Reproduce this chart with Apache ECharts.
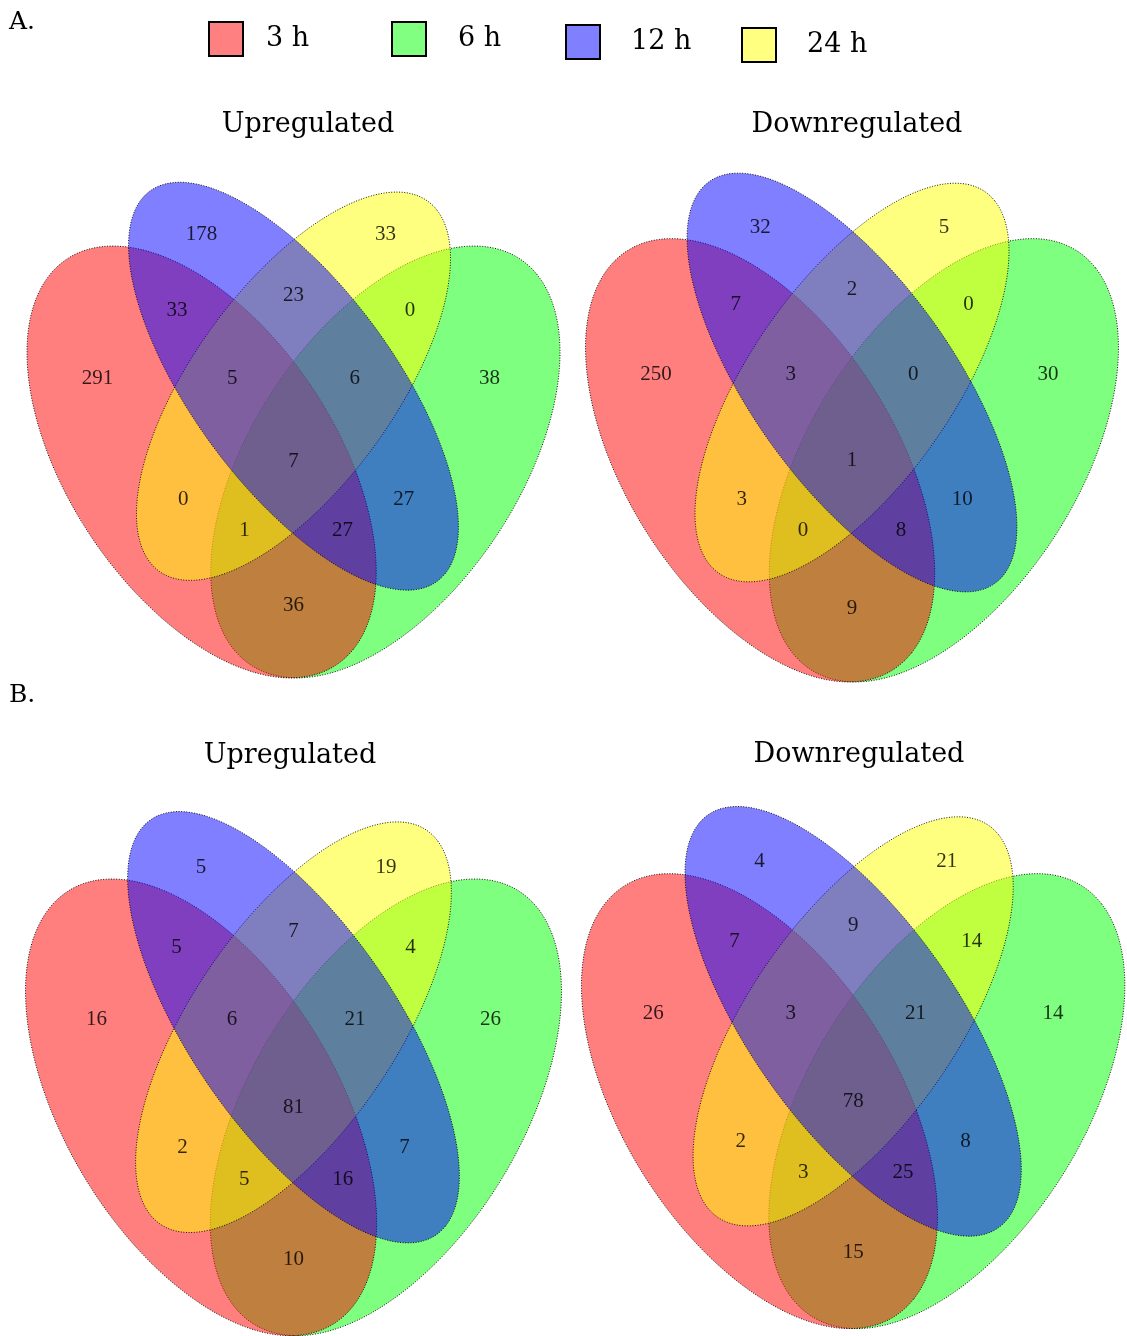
<!DOCTYPE html>
<html><head><meta charset="utf-8">
<script src="https://cdn.jsdelivr.net/npm/echarts@6/dist/echarts.min.js"></script>
<style>html,body{margin:0;padding:0;background:#fff}#c{width:1127px;height:1336px}</style>
</head><body><div id="c"></div><script>
// ---------- DATA ----------
const setNames = ['3 h', '6 h', '12 h', '24 h'];
const sectionLabels = ['A.', 'B.'];
const panelTitles = ['Upregulated', 'Downregulated', 'Upregulated', 'Downregulated'];
// Venn regions (order used by the count arrays)
const regions = ['12 h only', '24 h only', '3 h & 12 h', '12 h & 24 h', '24 h & 6 h',
  '3 h only', '3 h & 12 h & 24 h', '12 h & 24 h & 6 h', '6 h only', 'all four',
  '3 h & 24 h', '12 h & 6 h', '3 h & 24 h & 6 h', '3 h & 12 h & 6 h', '3 h & 6 h'];
const countsAUp   = [178, 33, 33, 23, 0, 291, 5, 6, 38, 7, 0, 27, 1, 27, 36];
const countsADown = [32, 5, 7, 2, 0, 250, 3, 0, 30, 1, 3, 10, 0, 8, 9];
const countsBUp   = [5, 19, 5, 7, 4, 16, 6, 21, 26, 81, 2, 7, 5, 16, 10];
const countsBDown = [4, 21, 7, 9, 14, 26, 3, 21, 14, 78, 2, 8, 3, 25, 15];
const panelCounts = [countsAUp, countsADown, countsBUp, countsBDown];

// ---------- LAYOUT (unit Venn space, y up) ----------
const REGION_POS = {
  '12 h only': [0.35, 0.77], '24 h only': [0.65, 0.77],
  '3 h & 12 h': [0.31, 0.67], '12 h & 24 h': [0.50, 0.69], '24 h & 6 h': [0.69, 0.67],
  '3 h only': [0.18, 0.58], '3 h & 12 h & 24 h': [0.40, 0.58], '12 h & 24 h & 6 h': [0.60, 0.58], '6 h only': [0.82, 0.58],
  'all four': [0.50, 0.47],
  '3 h & 24 h': [0.32, 0.42], '12 h & 6 h': [0.68, 0.42],
  '3 h & 24 h & 6 h': [0.42, 0.38], '3 h & 12 h & 6 h': [0.58, 0.38],
  '3 h & 6 h': [0.50, 0.28]
};
const ELLIPSES = {
  '3 h':  {cx: 0.35, cy: 0.47, a: 0.35, b: 0.20, rot: -45},
  '6 h':  {cx: 0.65, cy: 0.47, a: 0.35, b: 0.20, rot: 45},
  '12 h': {cx: 0.50, cy: 0.57, a: 0.35, b: 0.15, rot: -45},
  '24 h': {cx: 0.50, cy: 0.57, a: 0.33, b: 0.15, rot: 45}
};
const FILL = {'3 h': 'rgba(255,0,0,0.5)', '6 h': 'rgba(0,255,0,0.5)', '12 h': 'rgba(0,0,255,0.5)', '24 h': 'rgba(255,255,0,0.5)'};
const TINT = {'3 h': '#ff8080', '6 h': '#80ff80', '12 h': '#8080ff', '24 h': '#ffff80'};
const DRAW_ORDER = ['6 h', '3 h', '24 h', '12 h'];
// px = x0 + sx*x ; py = C - sy*y
const PANELS = [
  {x0: -12.8, sx: 612.6, C: 818.0, sy: 757.5},
  {x0: 545.75, sx: 612.5, C: 825.75, sy: 777.6},
  {x0: -14.5, sx: 616.0, C: 1483.8, sy: 801.0},
  {x0: 540.9, sx: 624.5, C: 1476.2, sy: 798.0}
];
const TITLE_POS = [[308, 125], [857, 125], [290, 756], [859, 755]];
const SECTION_POS = [[9, 22], [9, 695]];
const LEGEND_POS = [[208, 21, 18], [391, 21, 27], [565, 24, 26], [741, 27, 26]];
const XMIN = 0.1, XMAX = 0.9, YMIN = 0.2, YMAX = 0.8;
const SERIF = "'DejaVu Serif', serif";
const NUMFONT = "'Liberation Serif', 'Times New Roman', serif";

// ---------- BUILD ----------
const grid = [], xAxis = [], yAxis = [], series = [];
PANELS.forEach((p, i) => {
  grid.push({left: p.x0 + p.sx * XMIN, width: p.sx * (XMAX - XMIN),
             top: p.C - p.sy * YMAX, height: p.sy * (YMAX - YMIN), containLabel: false});
  xAxis.push({gridIndex: i, type: 'value', min: XMIN, max: XMAX, show: false});
  yAxis.push({gridIndex: i, type: 'value', min: YMIN, max: YMAX, show: false});
});

function ellipseRender(geo, fill) {
  return function (params, api) {
    const pts = [];
    const th = geo.rot * Math.PI / 180, c = Math.cos(th), s = Math.sin(th);
    const N = 260;
    for (let k = 0; k < N; k++) {
      const t = 2 * Math.PI * k / N;
      const dx = geo.a * Math.cos(t), dy = geo.b * Math.sin(t);
      pts.push(api.coord([geo.cx + dx * c - dy * s, geo.cy + dx * s + dy * c]));
    }
    return {type: 'polygon', shape: {points: pts},
      style: {fill: fill, stroke: 'rgba(0,0,0,0.9)', lineWidth: 1, lineDash: [1, 1.6]}};
  };
}

PANELS.forEach((p, i) => {
  DRAW_ORDER.forEach(name => {
    const geo = ELLIPSES[name];
    series.push({
      type: 'custom', name: name, xAxisIndex: i, yAxisIndex: i,
      coordinateSystem: 'cartesian2d', clip: false, silent: true, z: 2,
      itemStyle: {color: TINT[name]},
      renderItem: ellipseRender(geo, FILL[name]),
      data: [[geo.cx, geo.cy]]
    });
  });
  series.push({
    type: 'scatter', xAxisIndex: i, yAxisIndex: i, z: 5, silent: true, clip: false,
    symbolSize: 1, itemStyle: {color: 'rgba(0,0,0,0)'},
    label: {show: true, position: 'inside', color: '#000', fontFamily: NUMFONT, fontSize: 21,
            formatter: q => String(q.value[2])},
    data: regions.map((r, k) => [REGION_POS[r][0], REGION_POS[r][1], panelCounts[i][k]])
  });
});

const legend = setNames.map((name, k) => ({
  left: LEGEND_POS[k][0], top: LEGEND_POS[k][1], padding: 0, orient: 'horizontal',
  itemWidth: 34, itemHeight: 34, selectedMode: false,
  textStyle: {fontFamily: SERIF, fontSize: 27, color: '#000', padding: [0, 0, 0, LEGEND_POS[k][2]]},
  data: [{name: name, icon: 'rect', itemStyle: {color: TINT[name], borderColor: '#000', borderWidth: 2}}]
}));

const graphic = [];
panelTitles.forEach((t, i) => graphic.push({type: 'text', x: TITLE_POS[i][0], y: TITLE_POS[i][1],
  style: {text: t, font: "27px 'DejaVu Serif', serif", fill: '#000', textAlign: 'center', textVerticalAlign: 'middle'}}));
sectionLabels.forEach((t, i) => graphic.push({type: 'text', x: SECTION_POS[i][0], y: SECTION_POS[i][1],
  style: {text: t, font: "25px 'DejaVu Serif', serif", fill: '#000', textAlign: 'left', textVerticalAlign: 'middle'}}));

const chart = echarts.init(document.getElementById('c'), null, {renderer: 'canvas'});
chart.setOption({animation: false, backgroundColor: '#fff', grid, xAxis, yAxis, series, legend, graphic});
</script></body></html>
